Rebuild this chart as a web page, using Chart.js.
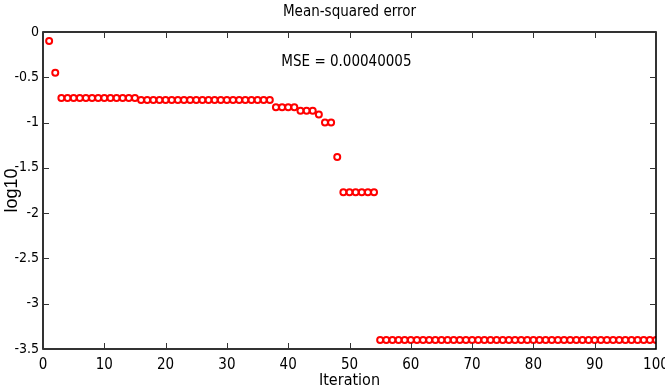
<!DOCTYPE html>
<html>
<head>
<meta charset="utf-8">
<script src="https://cdn.jsdelivr.net/npm/chart.js@4/dist/chart.umd.min.js"></script>
<style>
  html, body { margin: 0; padding: 0; background: #fff; }
  #wrap { width: 665px; height: 390px; }
</style>
</head>
<body>
<div id="wrap"><canvas id="myChart" width="665" height="390"></canvas></div>
<script>
var iterations = [1, 2, 3, 4, 5, 6, 7, 8, 9, 10,
    11, 12, 13, 14, 15, 16, 17, 18, 19, 20,
    21, 22, 23, 24, 25, 26, 27, 28, 29, 30,
    31, 32, 33, 34, 35, 36, 37, 38, 39, 40,
    41, 42, 43, 44, 45, 46, 47, 48, 49, 50,
    51, 52, 53, 54, 55, 56, 57, 58, 59, 60,
    61, 62, 63, 64, 65, 66, 67, 68, 69, 70,
    71, 72, 73, 74, 75, 76, 77, 78, 79, 80,
    81, 82, 83, 84, 85, 86, 87, 88, 89, 90,
    91, 92, 93, 94, 95, 96, 97, 98, 99, 100];
var logMse = [-0.10, -0.45, -0.73, -0.73, -0.73, -0.73, -0.73, -0.73, -0.73, -0.73,
    -0.73, -0.73, -0.73, -0.73, -0.73, -0.75, -0.75, -0.75, -0.75, -0.75,
    -0.75, -0.75, -0.75, -0.75, -0.75, -0.75, -0.75, -0.75, -0.75, -0.75,
    -0.75, -0.75, -0.75, -0.75, -0.75, -0.75, -0.75, -0.83, -0.83, -0.83,
    -0.83, -0.87, -0.87, -0.87, -0.91, -1.00, -1.00, -1.38, -1.77, -1.77,
    -1.77, -1.77, -1.77, -1.77, -3.40, -3.40, -3.40, -3.40, -3.40, -3.40,
    -3.40, -3.40, -3.40, -3.40, -3.40, -3.40, -3.40, -3.40, -3.40, -3.40,
    -3.40, -3.40, -3.40, -3.40, -3.40, -3.40, -3.40, -3.40, -3.40, -3.40,
    -3.40, -3.40, -3.40, -3.40, -3.40, -3.40, -3.40, -3.40, -3.40, -3.40,
    -3.40, -3.40, -3.40, -3.40, -3.40, -3.40, -3.40, -3.40, -3.40, -3.40];
var xTicks = [0, 10, 20, 30, 40, 50, 60, 70, 80, 90, 100];
var yTicks = [0, -0.5, -1, -1.5, -2, -2.5, -3, -3.5];
var mseText = 'MSE = 0.00040005';

var fontFam = '"Liberation Sans Narrow", "DejaVu Sans Condensed", "Liberation Sans", Arial, sans-serif';

var points = iterations.map(function(it, i) {
    return { x: it, y: logMse[i] };
});

// box round the plot with inward ticks (matlab style) + the MSE note
var boxPlugin = {
    id: 'box',
    afterDatasetsDraw: function(chart) {
        var ctx = chart.ctx;
        var a = chart.chartArea;
        var xs = chart.scales.x, ys = chart.scales.y;
        ctx.save();
        ctx.strokeStyle = '#000';
        ctx.lineWidth = 1.6;
        ctx.strokeRect(a.left, a.top, a.right - a.left, a.bottom - a.top);
        ctx.lineWidth = 1;
        ctx.strokeStyle = '#333';
        ctx.beginPath();
        xTicks.forEach(function(v) {
            var px = Math.round(xs.getPixelForValue(v)) + 0.5;
            ctx.moveTo(px, a.bottom); ctx.lineTo(px, a.bottom - 6);
            ctx.moveTo(px, a.top); ctx.lineTo(px, a.top + 6);
        });
        yTicks.forEach(function(v) {
            var py = Math.round(ys.getPixelForValue(v)) + 0.5;
            ctx.moveTo(a.left, py); ctx.lineTo(a.left + 6, py);
            ctx.moveTo(a.right, py); ctx.lineTo(a.right - 6, py);
        });
        ctx.stroke();
        ctx.fillStyle = '#000';
        ctx.font = '15px ' + fontFam;
        ctx.textAlign = 'center';
        ctx.textBaseline = 'middle';
        ctx.fillText(mseText, xs.getPixelForValue(49.5), ys.getPixelForValue(-0.33));
        ctx.restore();
    }
};

var ctx = document.getElementById('myChart').getContext('2d');
var myChart = new Chart(ctx, {
    type: 'scatter',
    data: {
        datasets: [{
            label: 'log10 MSE',
            data: points,
            pointStyle: 'circle',
            pointRadius: 3,
            pointHoverRadius: 3,
            borderColor: '#ff0000',
            backgroundColor: 'rgba(255,255,255,0)',
            borderWidth: 2
        }]
    },
    options: {
        responsive: false,
        animation: false,
        layout: { padding: { left: 0, right: 9, top: 0, bottom: 0 } },
        plugins: {
            legend: { display: false },
            tooltip: { enabled: false },
            title: {
                display: true,
                fullSize: false,
                text: 'Mean-squared error',
                color: '#000',
                font: { family: fontFam, size: 15, weight: 'normal' },
                padding: { top: 3, bottom: 11 }
            }
        },
        scales: {
            x: {
                type: 'linear',
                min: 0,
                max: 100,
                afterBuildTicks: function(s) { s.ticks = xTicks.map(function(v) { return { value: v }; }); },
                afterFit: function(s) { s.height = 41; s.paddingLeft = 0; s.paddingRight = 0; },
                grid: { display: false, drawTicks: false },
                border: { display: false },
                ticks: {
                    color: '#000',
                    padding: 7,
                    maxRotation: 0,
                    font: { family: fontFam, size: 15 }
                },
                title: {
                    display: true,
                    text: 'Iteration',
                    color: '#000',
                    padding: 0,
                    font: { family: fontFam, size: 16 }
                }
            },
            y: {
                type: 'linear',
                min: -3.5,
                max: 0,
                afterBuildTicks: function(s) { s.ticks = yTicks.map(function(v) { return { value: v }; }); },
                afterFit: function(s) { s.width = 43; s.paddingTop = 0; s.paddingBottom = 0; },
                grid: { display: false, drawTicks: false },
                border: { display: false },
                ticks: {
                    color: '#000',
                    padding: 4,
                    font: { family: fontFam, size: 14 },
                    callback: function(v) { return String(v); }
                },
                title: {
                    display: true,
                    text: 'log10',
                    color: '#000',
                    padding: { top: 1, bottom: 0 },
                    font: { family: 'Arial, "Liberation Sans", sans-serif', size: 18 }
                }
            }
        }
    },
    plugins: [boxPlugin]
});
</script>
</body>
</html>
